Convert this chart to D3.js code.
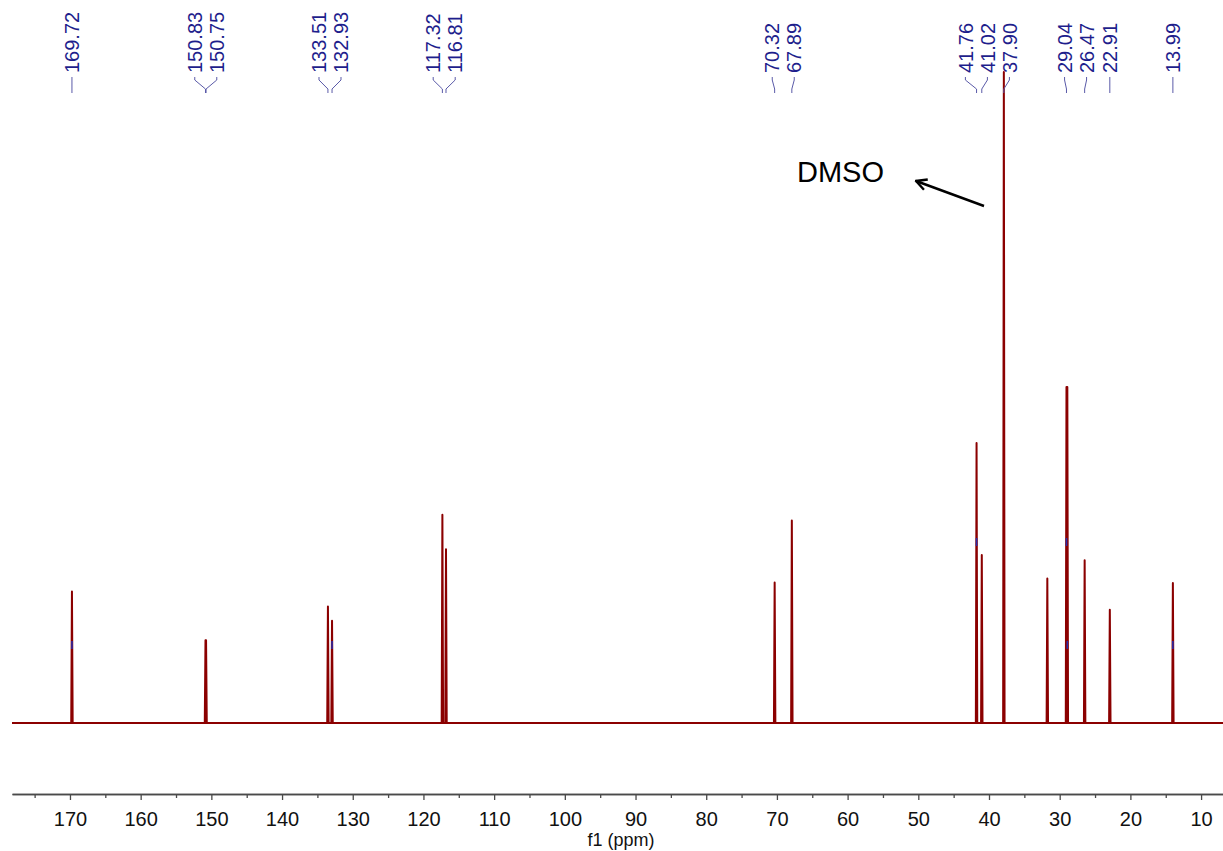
<!DOCTYPE html>
<html>
<head>
<meta charset="utf-8">
<script src="https://cdn.jsdelivr.net/npm/d3@7"></script>
<style>
  html, body { margin: 0; padding: 0; background: #fff; }
  svg { display: block; }
</style>
</head>
<body>
<script>
// 13C NMR spectrum: peak shifts (ppm) and relative heights (DMSO line = 100)
const peakShifts  = [169.72, 150.83, 150.75, 133.51, 132.93, 117.32, 116.81, 70.32, 67.89, 41.76, 41.02, 37.90, 31.75, 29.04, 28.92, 26.47, 22.91, 13.99];
const peakHeights = [20.2,   12.7,   12.7,   17.9,   15.7,   32.0,   26.7,   21.6,  31.1,  43.0,  25.8,  100,   22.2,  51.6,  51.6,  25.0,  17.4,  21.5];

// picked-peak annotations printed along the top
const labelShifts = [169.72, 150.83, 150.75, 133.51, 132.93, 117.32, 116.81, 70.32, 67.89, 41.76, 41.02, 37.90, 29.04, 26.47, 22.91, 13.99];
const labelTexts  = ["169.72", "150.83", "150.75", "133.51", "132.93", "117.32", "116.81", "70.32", "67.89", "41.76", "41.02", "37.90", "29.04", "26.47", "22.91", "13.99"];

// small peak-pick markers (shift, level)
const markerShifts = [169.72, 132.93, 41.76, 29.04, 28.92, 13.99];
const markerLevels = [12.0, 12.0, 27.8, 27.8, 12.0, 12.0];

// axis ticks
const majorTicks = [170, 160, 150, 140, 130, 120, 110, 100, 90, 80, 70, 60, 50, 40, 30, 20, 10];
const minorTicks = [175, 165, 155, 145, 135, 125, 115, 105, 95, 85, 75, 65, 55, 45, 35, 25, 15];
const ppmDomain = [178.2, 6.9];

const W = 1223, H = 851;
const left = 12, right = 1223;
const baseY = 723, topY = 72, axisY = 794;

const svg = d3.select("body").append("svg")
  .attr("width", W).attr("height", H)
  .style("font-family", "'Liberation Sans', Arial, Helvetica, sans-serif");

const x = d3.scaleLinear().domain(ppmDomain).range([left, right]);
const y = d3.scaleLinear().domain([0, 100]).range([baseY, topY]);

// ---- spectrum trace: flat baseline with a narrow line at each shift ----
const halfWidth = 0.1;
const peaks = peakShifts.map((s, i) => ({ s, h: peakHeights[i] }))
  .sort((a, b) => b.s - a.s);
const pts = [[ppmDomain[0], 0]];
peaks.forEach(p => {
  pts.push([p.s + halfWidth, 0], [p.s, p.h], [p.s - halfWidth, 0]);
});
pts.push([ppmDomain[1], 0]);

const line = d3.line().x(d => x(d[0])).y(d => y(d[1]));
svg.append("path")
  .attr("d", line(pts))
  .attr("fill", "none")
  .attr("stroke", "#8b0000")
  .attr("stroke-width", 2)
  .attr("stroke-linejoin", "round");

// peak-pick markers
svg.append("g").selectAll("line")
  .data(markerShifts.map((s, i) => ({ s, v: markerLevels[i] })))
  .join("line")
  .attr("x1", d => x(d.s)).attr("x2", d => x(d.s))
  .attr("y1", d => y(d.v) - 4).attr("y2", d => y(d.v) + 4)
  .attr("stroke", "#2a2aa8").attr("stroke-width", 1.6);

// ---- shift labels: spread apart so neighbouring labels do not collide ----
const gap = 22;
const lab = labelShifts.map((s, i) => ({ s, text: labelTexts[i], px: x(s) }))
  .sort((a, b) => a.px - b.px);
// cluster-based spreading: minimal displacement with a fixed gap
let clusters = lab.map(d => ({ items: [d], start: d.px }));
let merged = true;
function centre(c) {
  const mean = d3.mean(c.items, d => d.px);
  c.start = mean - (c.items.length - 1) * gap / 2;
}
while (merged) {
  merged = false;
  for (let i = 0; i < clusters.length - 1; i++) {
    const a = clusters[i], b = clusters[i + 1];
    const aEnd = a.start + (a.items.length - 1) * gap;
    if (b.start - aEnd < gap) {
      a.items = a.items.concat(b.items);
      centre(a);
      clusters.splice(i + 1, 1);
      merged = true;
      break;
    }
  }
}
clusters.forEach(c => c.items.forEach((d, k) => { d.lx = c.start + k * gap; }));

const labelColor = "#1e1e8c";
const textBottom = 73;
const lg = svg.append("g");
lg.selectAll("text")
  .data(lab)
  .join("text")
  .attr("transform", d => `translate(${d.lx},${textBottom}) rotate(-90)`)
  .attr("dy", "0.36em")
  .attr("font-size", 20)
  .attr("fill", labelColor)
  .text(d => d.text);

// connectors from each label down to its line position
lg.selectAll("path")
  .data(lab)
  .join("path")
  .attr("d", d => `M${d.lx},77 L${d.lx},80 L${d.px},89 L${d.px},93`)
  .attr("fill", "none")
  .attr("stroke", "#5a5aa8")
  .attr("stroke-width", 1);

// ---- solvent annotation ----
svg.append("defs").append("marker")
  .attr("id", "head")
  .attr("viewBox", "0 0 14 14")
  .attr("refX", 1.5).attr("refY", 7)
  .attr("markerWidth", 14).attr("markerHeight", 14)
  .attr("markerUnits", "userSpaceOnUse")
  .attr("orient", "auto")
  .append("path")
  .attr("d", "M12,1.5 L1.5,7 L12,12.5")
  .attr("fill", "none")
  .attr("stroke", "#000")
  .attr("stroke-width", 2.4)
  .attr("stroke-linejoin", "miter");

svg.append("text")
  .attr("x", 797).attr("y", 182)
  .attr("font-size", 29)
  .attr("fill", "#000")
  .text("DMSO");

svg.append("line")
  .attr("x1", 916).attr("y1", 181)
  .attr("x2", 984).attr("y2", 206)
  .attr("stroke", "#000")
  .attr("stroke-width", 2.4)
  .attr("marker-start", "url(#head)");

// ---- ppm axis ----
const axisColor = "#4a4a4a";
const gMinor = svg.append("g")
  .attr("transform", `translate(0,${axisY})`)
  .call(d3.axisBottom(x).tickValues(minorTicks).tickSize(4).tickSizeOuter(0).tickFormat(""));
const gMajor = svg.append("g")
  .attr("transform", `translate(0,${axisY})`)
  .call(d3.axisBottom(x).tickValues(majorTicks).tickSize(6).tickSizeOuter(0).tickPadding(12).tickFormat(d3.format("d")));

[gMinor, gMajor].forEach(g => {
  g.select(".domain").attr("stroke", axisColor).attr("stroke-width", 1.6);
  g.selectAll(".tick line").attr("stroke", axisColor).attr("stroke-width", 1.3);
});
gMajor.selectAll(".tick text")
  .attr("font-size", 20)
  .attr("font-family", "'Liberation Sans', Arial, Helvetica, sans-serif")
  .attr("fill", "#111");

svg.append("text")
  .attr("x", 621).attr("y", 846)
  .attr("text-anchor", "middle")
  .attr("font-size", 18)
  .attr("fill", "#111")
  .text("f1 (ppm)");
</script>
</body>
</html>
